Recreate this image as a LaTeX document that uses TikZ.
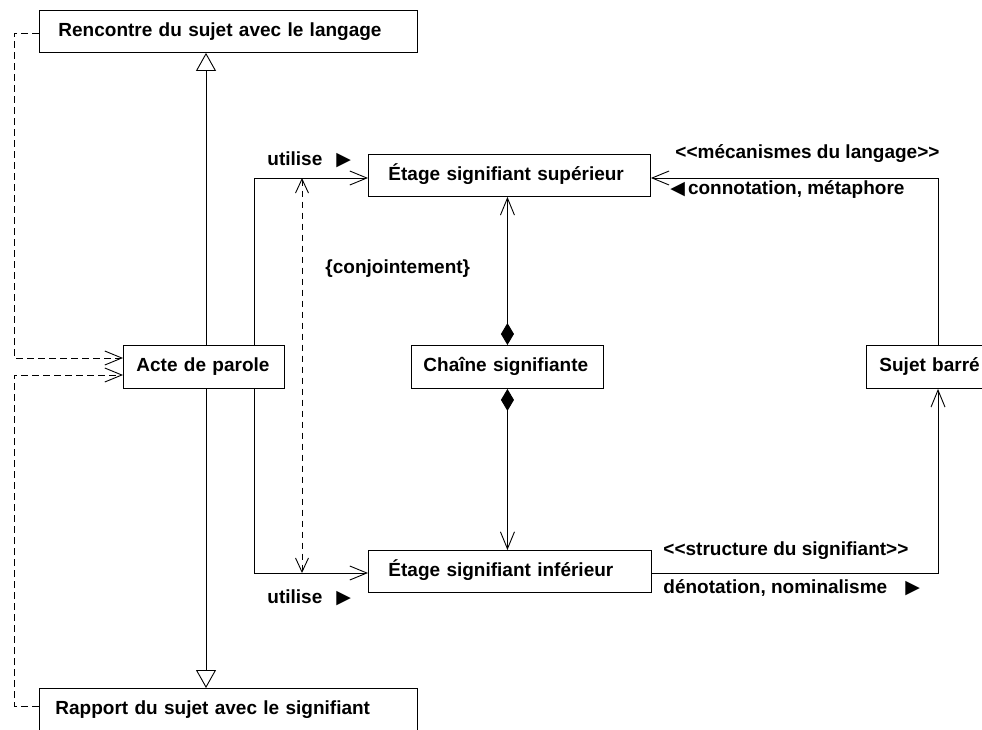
\documentclass[tikz,border=0pt]{standalone}
\usepackage{fontspec}
\setmainfont{Liberation Sans}
\newfontfamily\symfont{DejaVu Sans}
\usetikzlibrary{arrows.meta}

\begin{document}
\begin{tikzpicture}[x=1pt,y=-1pt,
  font=\fontsize{19}{22}\selectfont\bfseries,
  line width=0.9pt,
  box/.style={draw, anchor=north west, inner ysep=0pt, align=left,
              text height=13.5pt, text depth=4pt},
  lbl/.style={anchor=base west, inner sep=0pt},
  barb/.tip={Straight Barb[length=17pt,width=14pt]},
  smallbarb/.tip={Straight Barb[length=14pt,width=13pt]},
  gen/.style={-{Triangle[open,fill=white,length=18pt,width=20pt]}},
  nav/.style={-barb},
  dep/.style={dash pattern=on 7pt off 4pt},
  comp/.style={{Diamond[length=22pt,width=13pt]}-barb},
]
\useasboundingbox (0,0) rectangle (982,729);

% classes
\node[box, minimum height=42pt, text width=340pt, inner xsep=19pt] (rencontre) at (39,10) {Rencontre du sujet avec le langage};
\node[box, minimum height=42pt, text width=346pt, inner xsep=16pt] (rapport) at (39,688) {Rapport du sujet avec le signifiant};
\node[box, minimum height=43pt, text width=135pt, inner xsep=13pt] (acte) at (123,345) {Acte de parole};
\node[box, minimum height=42pt, text width=242pt, inner xsep=20pt] (sup) at (368,154) {Étage signifiant supérieur};
\node[box, minimum height=43pt, text width=168pt, inner xsep=12pt] (chaine) at (411,345) {\mbox{Chaîne signifiante}};
\node[box, minimum height=43pt, text width=104pt, inner xsep=13pt] (sujet) at (866,345) {Sujet barré};
\node[box, minimum height=42pt, text width=243pt, inner xsep=20pt] (inf) at (368,550) {Étage signifiant inférieur};

% routing columns and rows
\coordinate (colG) at (206,0);
\coordinate (colU) at (254,0);
\coordinate (colC) at (302,0);
\coordinate (colS) at (938,0);
\coordinate (colL) at (14,0);
\coordinate (rowT) at (0,33);
\coordinate (rowR) at (0,706);
\coordinate (rowU) at (0,178);
\coordinate (rowL) at (0,573);
\coordinate (rowA) at (0,358);
\coordinate (rowB) at (0,375);

% generalisations
\draw[gen] (acte.north -| colG) -- (rencontre.south -| colG);
\draw[gen] (acte.south -| colG) -- (rapport.north -| colG);

% "utilise" associations
\draw[nav] (acte.north -| colU) |- (sup.west |- rowU);
\draw[nav] (acte.south -| colU) |- (inf.west |- rowL);
\draw[dep, dash pattern=on 6pt off 5pt, smallbarb-smallbarb] (colC |- rowU) -- (colC |- rowL);

% compositions
\draw[comp] (chaine.north) -- (sup.south -| chaine.north);
\draw[comp] (chaine.south) -- (inf.north -| chaine.south);

% links with the barred subject
\draw[nav] (sujet.north -| colS) |- (sup.east |- rowU);
\draw[nav] (inf.east |- rowL) -| (sujet.south -| colS);

% dependencies
\draw[dep, nav] (rencontre.west |- rowT) -| (colL |- rowA) -- (acte.west |- rowA);
\draw[dep, nav] (rapport.west |- rowR) -| (colL |- rowB) -- (acte.west |- rowB);

% labels
\node[lbl] (uSup) at (267,165) {utilise\hspace{14pt}{\symfont ▶}};
\node[lbl] (uInf) at (267,603) {utilise\hspace{14pt}{\symfont ▶}};
\node[lbl] (conj) at (325,273) {\{conjointement\}};
\node[lbl] (meca) at (675,158) {<{}<mécanismes du langage>{}>};
\node[lbl] (conn) at (670,194) {{\symfont ◀}\hspace{3pt}connotation, métaphore};
\node[lbl] (struc) at (663,555) {<{}<structure du signifiant>{}>};
\node[lbl] (deno) at (663,593) {dénotation, nominalisme\hspace{18pt}{\symfont ▶}};
\end{tikzpicture}
\end{document}
